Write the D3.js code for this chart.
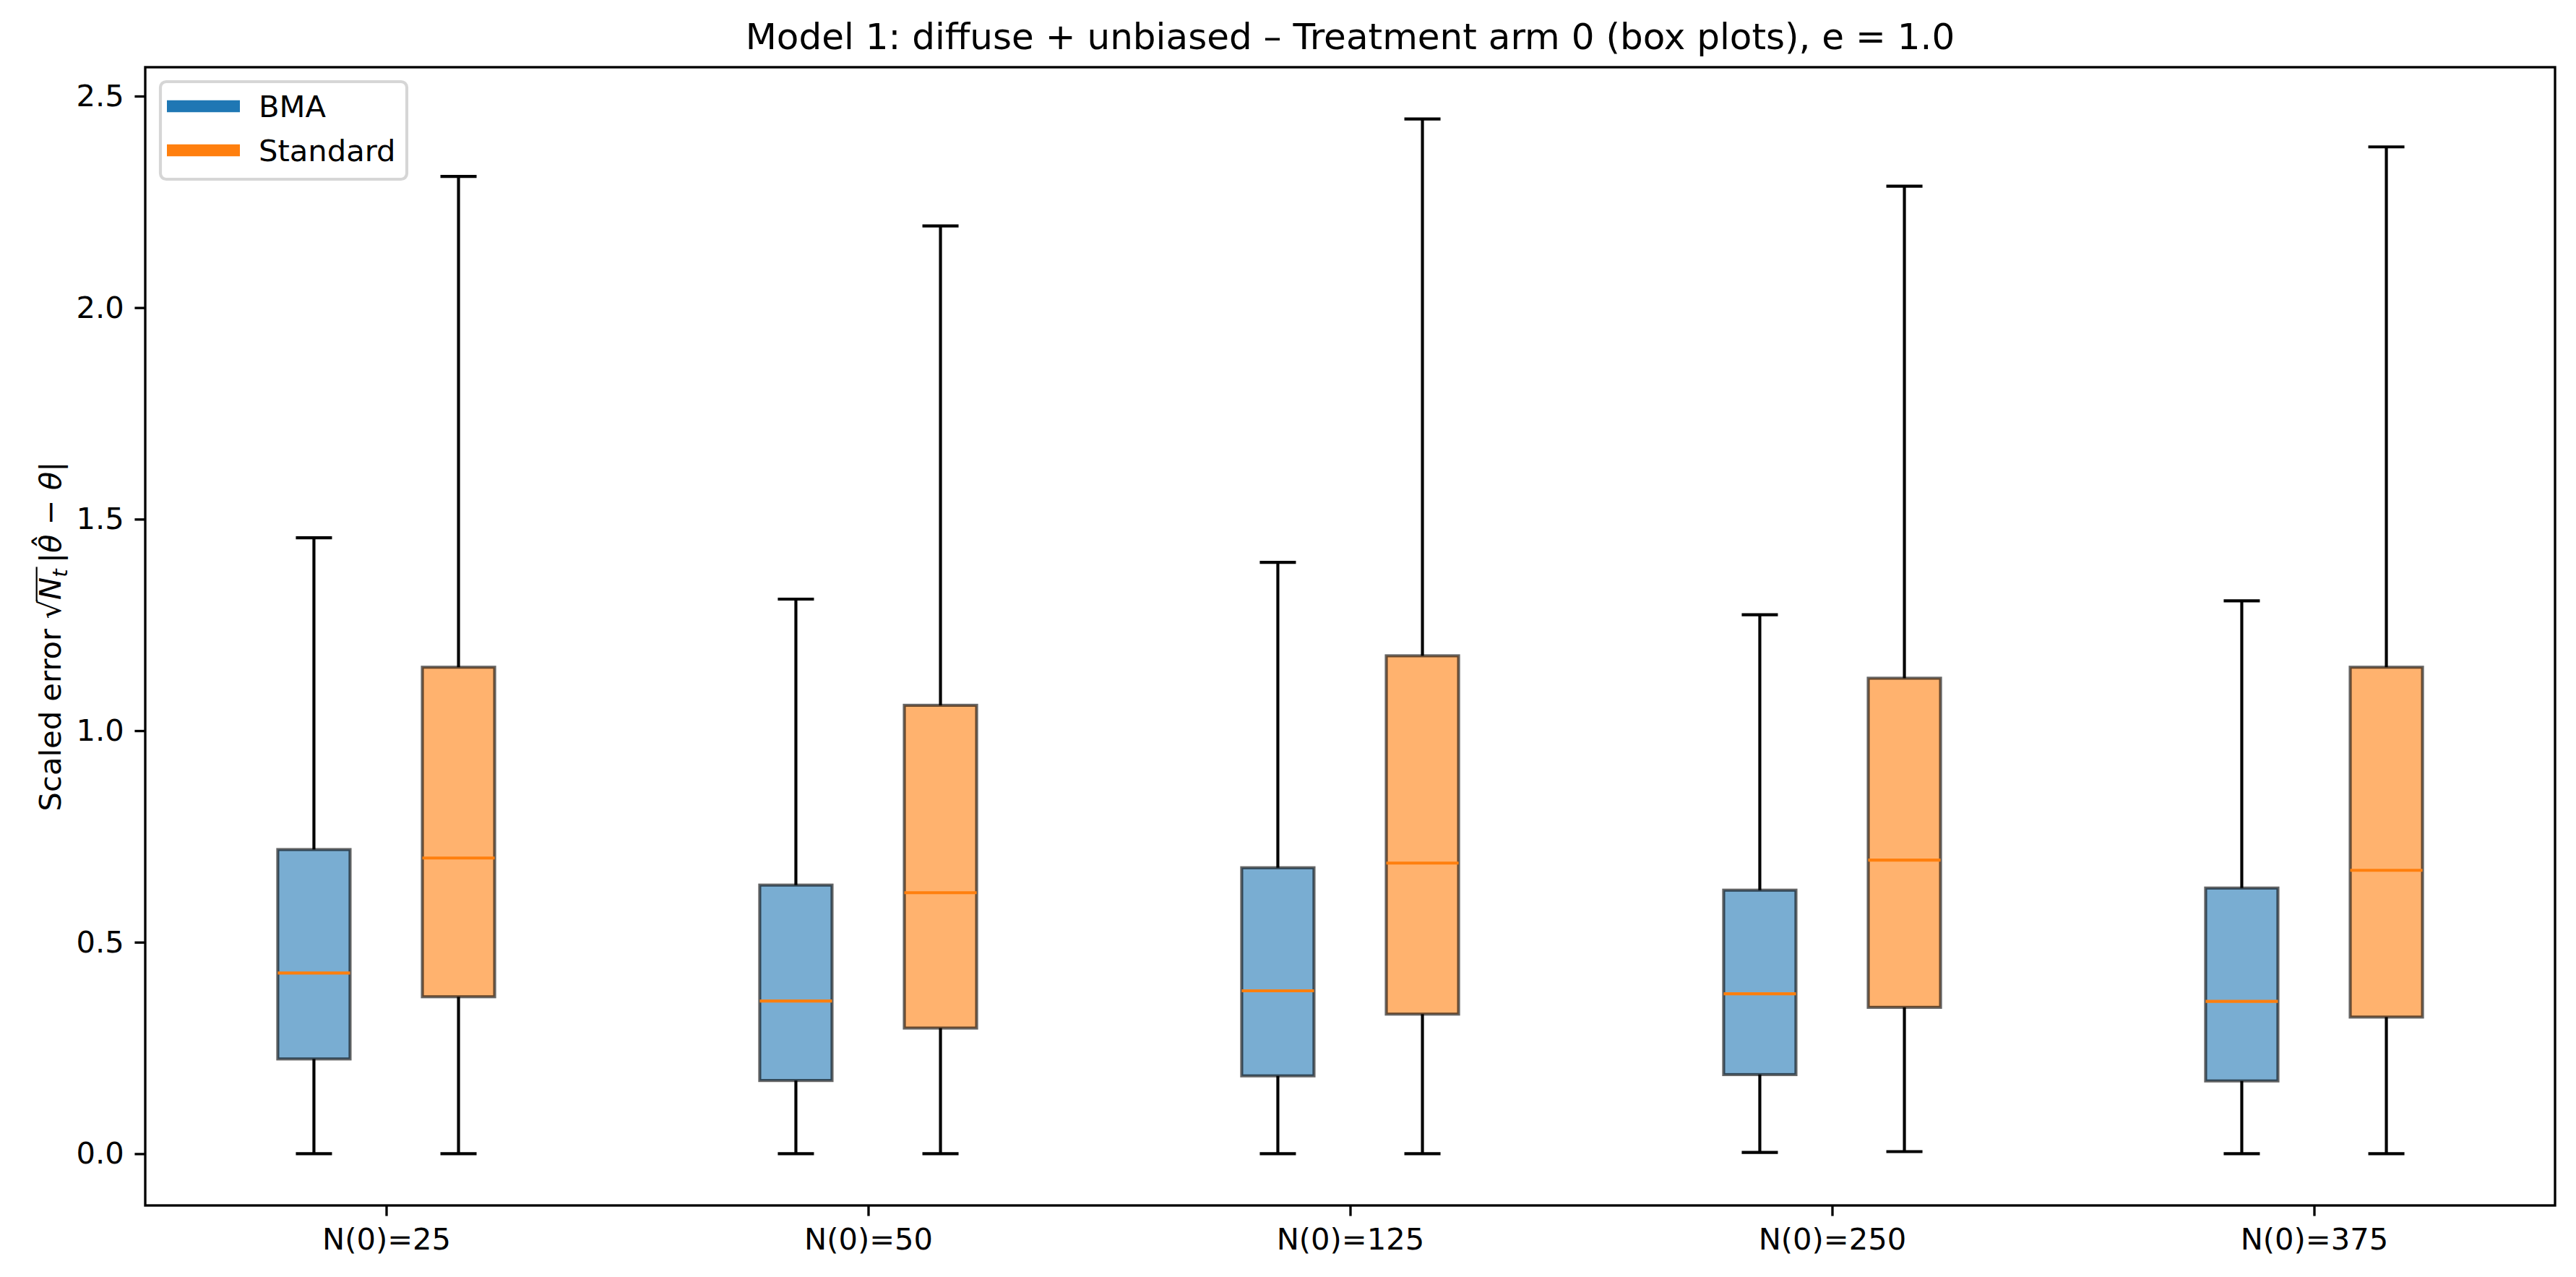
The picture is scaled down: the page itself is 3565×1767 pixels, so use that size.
<!DOCTYPE html>
<html>
<head>
<meta charset="utf-8">
<script src="https://cdn.jsdelivr.net/npm/d3@7"></script>
<style>
  body { margin: 0; background: #fff; }
  text { font-family: "DejaVu Sans", sans-serif; }
</style>
</head>
<body>
<div id="chart"></div>
<script>
var width = 3565;
var height = 1767;

// data
var groups = ["N(0)=25", "N(0)=50", "N(0)=125", "N(0)=250", "N(0)=375"];
var methods = ["BMA", "Standard"];

var bmaLow    = [0.000, 0.000, 0.000, 0.003, 0.000];
var bmaQ1     = [0.224, 0.173, 0.184, 0.187, 0.172];
var bmaMedian = [0.427, 0.361, 0.385, 0.378, 0.360];
var bmaQ3     = [0.719, 0.635, 0.676, 0.623, 0.628];
var bmaHigh   = [1.456, 1.311, 1.398, 1.274, 1.307];

var stdLow    = [0.000, 0.000, 0.000, 0.005, 0.000];
var stdQ1     = [0.371, 0.297, 0.330, 0.346, 0.323];
var stdMedian = [0.699, 0.617, 0.687, 0.694, 0.670];
var stdQ3     = [1.150, 1.060, 1.177, 1.124, 1.150];
var stdHigh   = [2.310, 2.193, 2.446, 2.287, 2.380];

var yTicks = [0.0, 0.5, 1.0, 1.5, 2.0, 2.5];

var colors = ["#1f77b4", "#ff7f0e"];
var pt = 300 / 72;

var plotLeft = 201, plotRight = 3536, plotTop = 93, plotBottom = 1668;

function drawChart() {
    var svg = d3.select("#chart").append("svg").attr("width", width).attr("height", height);

    var x = d3.scaleLinear().domain([-0.5, groups.length - 0.5]).range([plotLeft, plotRight]);
    var yMax = d3.max(stdHigh), yMin = 0;
    var pad = (yMax - yMin) * 0.05;
    var y = d3.scaleLinear().domain([yMin - pad, yMax + pad]).range([plotBottom, plotTop]);

    var boxes = [];
    groups.forEach(function (g, i) {
        boxes.push({g: i, m: 0, off: -0.15, low: bmaLow[i], q1: bmaQ1[i], med: bmaMedian[i], q3: bmaQ3[i], high: bmaHigh[i]});
        boxes.push({g: i, m: 1, off: 0.15, low: stdLow[i], q1: stdQ1[i], med: stdMedian[i], q3: stdQ3[i], high: stdHigh[i]});
    });
    var boxW = x(0.15) - x(0);

    var plot = svg.append("g");
    boxes.forEach(function (b) {
        var cx = x(b.g + b.off);
        // whiskers
        plot.append("line").attr("x1", cx).attr("x2", cx).attr("y1", y(b.q1)).attr("y2", y(b.low))
            .attr("stroke", "black").attr("stroke-width", pt);
        plot.append("line").attr("x1", cx).attr("x2", cx).attr("y1", y(b.q3)).attr("y2", y(b.high))
            .attr("stroke", "black").attr("stroke-width", pt);
        // caps
        [b.low, b.high].forEach(function (v) {
            plot.append("line").attr("x1", cx - boxW / 4).attr("x2", cx + boxW / 4)
                .attr("y1", y(v)).attr("y2", y(v))
                .attr("stroke", "black").attr("stroke-width", pt);
        });
        // box
        plot.append("rect").attr("x", cx - boxW / 2).attr("width", boxW)
            .attr("y", y(b.q3)).attr("height", y(b.q1) - y(b.q3))
            .attr("fill", colors[b.m]).attr("fill-opacity", 0.6)
            .attr("stroke", "black").attr("stroke-opacity", 0.6).attr("stroke-width", pt);
        // median
        plot.append("line").attr("x1", cx - boxW / 2).attr("x2", cx + boxW / 2)
            .attr("y1", y(b.med)).attr("y2", y(b.med))
            .attr("stroke", "#ff7f0e").attr("stroke-width", pt);
    });

    // axes
    var tickLen = 3.5 * pt;
    var yAxis = svg.append("g").attr("transform", "translate(" + plotLeft + ",0)")
        .call(d3.axisLeft(y).tickValues(yTicks).tickFormat(d3.format(".1f"))
            .tickSize(tickLen).tickPadding(tickLen));
    var xAxis = svg.append("g").attr("transform", "translate(0," + plotBottom + ")")
        .call(d3.axisBottom(x).tickValues(d3.range(groups.length)).tickFormat(function (d) { return groups[d]; })
            .tickSize(tickLen).tickPadding(tickLen));
    [yAxis, xAxis].forEach(function (a) {
        a.select(".domain").remove();
        a.selectAll(".tick line").attr("stroke", "black").attr("stroke-width", 0.8 * pt);
        a.selectAll(".tick text").attr("font-size", 10 * pt).attr("fill", "black")
            .style("font-family", "DejaVu Sans");
    });
    xAxis.selectAll(".tick text").attr("dy", "0.76em");

    svg.append("rect").attr("x", plotLeft).attr("y", plotTop)
        .attr("width", plotRight - plotLeft).attr("height", plotBottom - plotTop)
        .attr("fill", "none").attr("stroke", "black").attr("stroke-width", 0.8 * pt);

    // title
    svg.append("text").attr("x", (plotLeft + plotRight) / 2).attr("y", plotTop - 6 * pt)
        .attr("text-anchor", "middle").attr("font-size", 12 * pt)
        .text("Model 1: diffuse + unbiased \u2013 Treatment arm 0 (box plots), e = 1.0");

    // y label with math
    var fs = 10 * pt;
    var lab = svg.append("g").attr("transform", "translate(84," + ((plotTop + plotBottom) / 2) + ") rotate(-90)");
    var pieces = [
        {t: "Scaled error ", it: false},
        {t: "\u221a", it: false, key: "rad"},
        {t: "N", it: true, key: "n"},
        {t: "t", it: true, sub: true, key: "t"},
        {t: "\u2009|", it: false},
        {t: "\u03b8", it: true, key: "hat"},
        {t: " \u2212 ", it: false},
        {t: "\u03b8", it: true},
        {t: "|", it: false}
    ];
    var cur = 0, marks = {};
    var els = pieces.map(function (p) {
        var el = lab.append("text").attr("font-size", p.sub ? fs * 0.7 : fs)
            .attr("font-style", p.it ? "italic" : "normal")
            .attr("y", p.sub ? fs * 0.22 : 0)
            .style("white-space", "pre")
            .text(p.t);
        var w = el.node().getComputedTextLength();
        el.attr("x", cur);
        if (p.key) marks[p.key] = {x0: cur, x1: cur + w};
        cur += w;
        return el;
    });
    var shift = -cur / 2;
    els.forEach(function (el) { el.attr("x", +el.attr("x") + shift); });
    lab.append("line")
        .attr("x1", marks.rad.x1 + shift - 2).attr("x2", marks.t.x1 + shift + 3)
        .attr("y1", -fs * 0.80).attr("y2", -fs * 0.80)
        .attr("stroke", "black").attr("stroke-width", 2.2);
    lab.append("text").attr("font-size", fs).attr("text-anchor", "middle")
        .attr("x", (marks.hat.x0 + marks.hat.x1) / 2 + shift + 3).attr("y", -fs * 0.2)
        .text("\u02c6");

    // legend
    var lg = svg.append("g");
    lg.append("rect").attr("x", 222).attr("y", 113).attr("width", 341).attr("height", 135)
        .attr("rx", 8).attr("fill", "white").attr("fill-opacity", 0.8)
        .attr("stroke", "#d6d6d6").attr("stroke-width", pt);
    methods.forEach(function (m, i) {
        var ly = 147 + i * 61;
        lg.append("line").attr("x1", 231).attr("x2", 332).attr("y1", ly).attr("y2", ly)
            .attr("stroke", colors[i]).attr("stroke-width", 4 * pt);
        lg.append("text").attr("x", 358).attr("y", ly).attr("dy", "0.36em")
            .attr("font-size", 10 * pt).text(m);
    });
}
drawChart();
</script>
</body>
</html>
